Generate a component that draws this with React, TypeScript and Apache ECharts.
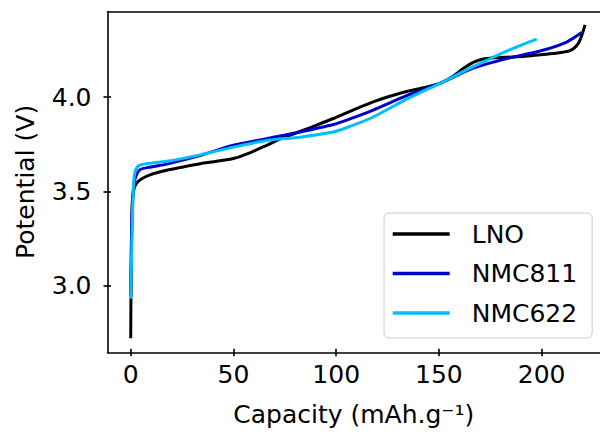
import React, { useEffect, useRef } from "react";
import * as echarts from "echarts";

const seriesNames = ["LNO", "NMC811", "NMC622"];
const seriesColors = ["#000000", "#0000CD", "#00BFFF"];

const lnoCap = [0, 0.3, 0.8, 1.5, 2.9, 5, 9.4, 17.5, 25.6, 33.7, 41.8, 49.9, 58, 66.2, 74.3, 82.4, 90.5, 98.6, 106.7, 118, 126.2, 134.3, 142.4, 150.5, 157, 161.8, 166.7, 171.6, 178.1, 186.2, 195.9, 205.6, 213.8, 217.8, 219.9, 221.1];
const lnoV = [2.72, 3.2, 3.45, 3.51, 3.544, 3.565, 3.588, 3.612, 3.63, 3.647, 3.66, 3.675, 3.705, 3.745, 3.785, 3.818, 3.852, 3.887, 3.925, 3.975, 4.005, 4.03, 4.05, 4.074, 4.113, 4.152, 4.185, 4.203, 4.21, 4.214, 4.222, 4.232, 4.247, 4.285, 4.34, 4.384];

const nmc811Cap = [0, 0.5, 1.2, 2.2, 4.5, 10, 17.5, 33.7, 50, 66.2, 82.4, 98.6, 106.7, 118, 134.3, 150.5, 166.7, 183, 199.2, 212.2, 219.5];
const nmc811V = [2.95, 3.3, 3.5, 3.57, 3.615, 3.63, 3.645, 3.69, 3.745, 3.78, 3.815, 3.855, 3.885, 3.932, 4.008, 4.074, 4.154, 4.205, 4.245, 4.293, 4.343];

const nmc622Cap = [0, 0.6, 1.3, 2.0, 3.7, 8, 17.5, 33.7, 49.9, 66.2, 82.4, 98.6, 106.7, 118, 134.3, 150.5, 166.7, 183, 197.6];
const nmc622V = [2.93, 3.25, 3.52, 3.6, 3.635, 3.648, 3.66, 3.694, 3.735, 3.77, 3.788, 3.815, 3.845, 3.895, 3.99, 4.074, 4.162, 4.245, 4.308];

const xTicks = [0, 50, 100, 150, 200];
const yTicks = [3.0, 3.5, 4.0];

const FONT = "DejaVu Sans";

function pairs(xs: number[], ys: number[]) {
  return xs.map((x, i) => [x, ys[i]]);
}

export default function App() {
  const ref = useRef<HTMLDivElement>(null);
  useEffect(() => {
    document.body.style.margin = "0";
    const chart = echarts.init(ref.current!, null, { renderer: "svg" });
    const xMin = -11.3;
    const xMax = 228.4;
    const yMin = 2.646;
    const yMax = 4.455;
    const axisLine = { show: true, onZero: false, lineStyle: { color: "#000", width: 1.6 } };
    const data = [pairs(lnoCap, lnoV), pairs(nmc811Cap, nmc811V), pairs(nmc622Cap, nmc622V)];
    chart.setOption({
      animation: false,
      backgroundColor: "#fff",
      grid: { left: 107.5, right: 0, top: 11.5, bottom: 86.7, outerBoundsMode: "none", containLabel: false },
      legend: {
        orient: "vertical",
        left: 384,
        top: 213,
        padding: [8.5, 15, 12.5, 8.7],
        itemGap: 14.5,
        itemWidth: 57,
        itemHeight: 3.5,
        icon: "rect",
        data: seriesNames,
        textStyle: { fontSize: 25, color: "#000", fontFamily: FONT, padding: [0, 0, 0, 17] },
        borderColor: "#cccccc",
        borderWidth: 1,
        borderRadius: 5,
        backgroundColor: "rgba(255,255,255,0.8)",
      },
      xAxis: [
        {
          type: "value",
          min: xMin,
          max: xMax,
          position: "bottom",
          axisLine,
          splitLine: { show: false },
          axisTick: { show: true, inside: false, length: 4, customValues: xTicks, lineStyle: { color: "#000", width: 1.6 } },
          axisLabel: { show: true, customValues: xTicks, fontSize: 25, color: "#000", fontFamily: FONT, margin: 10 },
          name: "Capacity (mAh.g\u207B\u00B9)",
          nameLocation: "middle",
          nameGap: 50,
          nameTextStyle: { fontSize: 25, color: "#000", fontFamily: FONT },
        },
        {
          type: "value",
          min: xMin,
          max: xMax,
          position: "bottom",
          axisLine: { show: false, onZero: false },
          splitLine: { show: false },
          axisTick: { show: true, inside: true, length: 3.5, customValues: xTicks, lineStyle: { color: "#000", width: 1.6 } },
          axisLabel: { show: false },
        },
        {
          type: "value",
          min: xMin,
          max: xMax,
          position: "top",
          axisLine,
          splitLine: { show: false },
          axisTick: { show: false },
          axisLabel: { show: false },
        },
      ],
      yAxis: [
        {
          type: "value",
          min: yMin,
          max: yMax,
          position: "left",
          axisLine,
          splitLine: { show: false },
          axisTick: { show: true, inside: false, length: 4, customValues: yTicks, lineStyle: { color: "#000", width: 1.6 } },
          axisLabel: {
            show: true,
            customValues: yTicks,
            fontSize: 25,
            color: "#000",
            fontFamily: FONT,
            margin: 16,
            formatter: (v: number) => v.toFixed(1),
          },
          name: "Potential (V)",
          nameLocation: "middle",
          nameGap: 70,
          nameRotate: 90,
          nameTextStyle: { fontSize: 25, color: "#000", fontFamily: FONT },
        },
        {
          type: "value",
          min: yMin,
          max: yMax,
          position: "left",
          axisLine: { show: false, onZero: false },
          splitLine: { show: false },
          axisTick: { show: true, inside: true, length: 3.5, customValues: yTicks, lineStyle: { color: "#000", width: 1.6 } },
          axisLabel: { show: false },
        },
      ],
      series: seriesNames.map((name, i) => ({
        name,
        type: "line",
        xAxisIndex: 0,
        yAxisIndex: 0,
        data: data[i],
        showSymbol: false,
        symbol: "none",
        smooth: 0.25,
        lineStyle: { color: seriesColors[i], width: 3 },
        itemStyle: { color: seriesColors[i] },
      })),
    });
    return () => chart.dispose();
  }, []);
  return <div ref={ref} style={{ width: 600, height: 439 }} />;
}
